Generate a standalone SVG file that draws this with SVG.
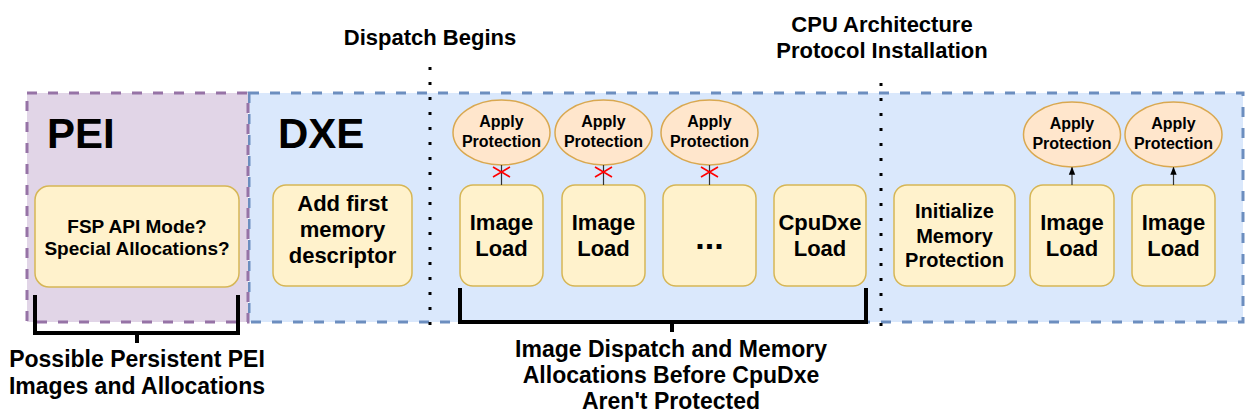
<svg xmlns="http://www.w3.org/2000/svg" width="1248" height="416" viewBox="0 0 1248 416">
<defs>
<style>
text{font-family:"Liberation Sans",Arial,sans-serif;font-weight:bold;fill:#000;text-anchor:middle}
.big{font-size:42px;text-anchor:start}
.hdr{font-size:22px}
.lbl{font-size:23px}
.box{fill:#fff2cc;stroke:#d6b656;stroke-width:1.5}
.ell{fill:#ffe6cc;stroke:#d9a850;stroke-width:1.5}
.t22{font-size:22px}
.t20{font-size:20px}
.t19{font-size:19px}
.t16{font-size:16px}
.dot{stroke:#000;stroke-width:3;stroke-dasharray:3 12;fill:none}
.br{stroke:#000;stroke-width:4;fill:none}
.con{stroke:#333;stroke-width:1.2;fill:none}
</style>
<marker id="cross" viewBox="-10 -10 20 20" markerWidth="20" markerHeight="20" markerUnits="userSpaceOnUse" refX="7" refY="0" orient="auto">
<path d="M-5,-8.5 L5,8.5 M-5,8.5 L5,-8.5" stroke="#ff0000" stroke-width="1.6" fill="none"/>
</marker>
<marker id="arr" viewBox="0 0 10 10" markerWidth="8" markerHeight="8" markerUnits="userSpaceOnUse" refX="9" refY="5" orient="auto">
<path d="M0,1 L10,5 L0,9 Z" fill="#000"/>
</marker>
</defs>

<g id="dxe-region">
<rect x="249" y="93" width="994" height="229" fill="#dae8fc" stroke="#6c8ebf" stroke-width="3" stroke-dasharray="10 11"/>
<text class="big" x="278" y="148">DXE</text>
</g>
<g id="pei-region">
<rect x="27" y="93" width="221" height="229" fill="#e1d5e7" stroke="#9673a6" stroke-width="3" stroke-dasharray="10 11"/>
<text class="big" x="47" y="148">PEI</text>
</g>

<g id="markers-lines">
<line class="dot" x1="430" y1="67" x2="430" y2="327"/>
<line class="dot" x1="881" y1="83" x2="881" y2="327"/>
</g>

<g id="header-dispatch"><text class="hdr" x="430" y="45">Dispatch Begins</text></g>
<g id="header-cpu"><text class="hdr" x="882" y="32">CPU Architecture</text><text class="hdr" x="882" y="58">Protocol Installation</text></g>

<g id="fsp"><rect class="box" x="35" y="186" width="204" height="101" rx="14"/>
<text class="t19" x="137" y="233">FSP API Mode?</text><text class="t19" x="137" y="255">Special Allocations?</text></g>

<g id="add-first"><rect class="box" x="273" y="185" width="139" height="101" rx="13"/>
<text class="t22" x="342.5" y="211">Add first</text><text class="t22" x="342.5" y="237">memory</text><text class="t22" x="342.5" y="263">descriptor</text></g>

<g id="img1"><rect class="box" x="460" y="185" width="83" height="101" rx="13"/>
<text class="t22" x="501.5" y="230">Image</text><text class="t22" x="501.5" y="256">Load</text></g>
<g id="img2"><rect class="box" x="562" y="185" width="83" height="101" rx="13"/>
<text class="t22" x="603.5" y="230">Image</text><text class="t22" x="603.5" y="256">Load</text></g>
<g id="ellipsis"><rect class="box" x="663" y="185" width="93" height="101" rx="13"/>
<text x="709.5" y="249" style="font-size:34px">...</text></g>
<g id="cpudxe"><rect class="box" x="774" y="185" width="92" height="101" rx="13"/>
<text class="t22" x="820" y="230">CpuDxe</text><text class="t22" x="820" y="256">Load</text></g>
<g id="init"><rect class="box" x="894" y="185" width="121" height="101" rx="13"/>
<text class="t20" x="954.5" y="218">Initialize</text><text class="t20" x="954.5" y="242.5">Memory</text><text class="t20" x="954.5" y="267">Protection</text></g>
<g id="img3"><rect class="box" x="1030" y="185" width="84" height="101" rx="13"/>
<text class="t22" x="1072" y="230">Image</text><text class="t22" x="1072" y="256">Load</text></g>
<g id="img4"><rect class="box" x="1132" y="185" width="83" height="101" rx="13"/>
<text class="t22" x="1173.5" y="230">Image</text><text class="t22" x="1173.5" y="256">Load</text></g>

<g id="ap1"><ellipse class="ell" cx="501.5" cy="132.5" rx="48.5" ry="32.5"/>
<text class="t16" x="501.5" y="127">Apply</text><text class="t16" x="501.5" y="147">Protection</text></g>
<g id="ap2"><ellipse class="ell" cx="603.5" cy="132.5" rx="48.5" ry="32.5"/>
<text class="t16" x="603.5" y="127">Apply</text><text class="t16" x="603.5" y="147">Protection</text></g>
<g id="ap3"><ellipse class="ell" cx="709.5" cy="132.5" rx="48.5" ry="32.5"/>
<text class="t16" x="709.5" y="127">Apply</text><text class="t16" x="709.5" y="147">Protection</text></g>
<g id="ap4"><ellipse class="ell" cx="1072" cy="134.5" rx="48.5" ry="32.5"/>
<text class="t16" x="1072" y="129">Apply</text><text class="t16" x="1072" y="149">Protection</text></g>
<g id="ap5"><ellipse class="ell" cx="1173.5" cy="134.5" rx="48.5" ry="32.5"/>
<text class="t16" x="1173.5" y="129">Apply</text><text class="t16" x="1173.5" y="149">Protection</text></g>

<g id="connectors">
<line class="con" x1="501.5" y1="185" x2="501.5" y2="165" marker-end="url(#cross)"/>
<line class="con" x1="603.5" y1="185" x2="603.5" y2="165" marker-end="url(#cross)"/>
<line class="con" x1="709.5" y1="185" x2="709.5" y2="165" marker-end="url(#cross)"/>
<line class="con" x1="1072" y1="185" x2="1072" y2="167.5" marker-end="url(#arr)"/>
<line class="con" x1="1173.5" y1="185" x2="1173.5" y2="167.5" marker-end="url(#arr)"/>
</g>

<g id="bracket-pei">
<path class="br" d="M35,295 V333 H238 V295 M137,333 V343"/>
<text class="lbl" x="137" y="367">Possible Persistent PEI</text>
<text class="lbl" x="137" y="394">Images and Allocations</text>
</g>
<g id="bracket-dxe">
<path class="br" d="M460,288 V322 H866 V288 M672,322 V332"/>
<text class="lbl" x="671" y="357">Image Dispatch and Memory</text>
<text class="lbl" x="671" y="383">Allocations Before CpuDxe</text>
<text class="lbl" x="671" y="409">Aren't Protected</text>
</g>
</svg>
